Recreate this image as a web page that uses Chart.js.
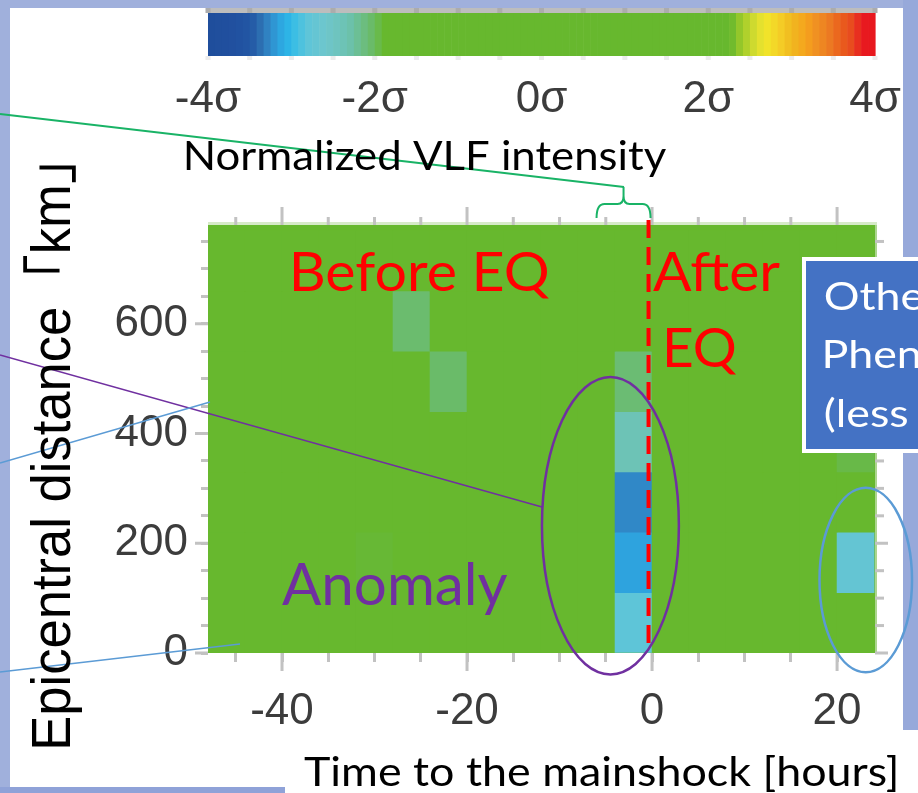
<!DOCTYPE html>
<html>
<head>
<meta charset="utf-8">
<script src="https://cdn.jsdelivr.net/npm/chart.js@4/dist/chart.umd.min.js"></script>
<style>
  html, body { margin: 0; padding: 0; background: #ffffff; }
  body { width: 918px; height: 793px; position: relative; overflow: hidden; }
  .frame { position: absolute; background: #a0b0dc; }
  #c { position: absolute; left: 0; top: 0; }
</style>
</head>
<body>
<div class="frame" style="left:0;top:0;width:918px;height:8px;"></div>
<div class="frame" style="left:0;top:0;width:10px;height:787px;"></div>
<div class="frame" style="left:903px;top:0;width:15px;height:730px;background:#97a9da;"></div>
<div class="frame" style="left:0;top:787px;width:285px;height:6px;background:#8fa2d8;"></div>
<canvas id="c" width="918" height="793"></canvas>
<script>
// ---------------- data ----------------
// time bins (hours relative to the mainshock), bin edges
const timeEdges = [-48, -44, -40, -36, -32, -28, -24, -20, -16, -12, -8, -4, 0, 4, 8, 12, 16, 20, 24];
// epicentral distance bins (km), bin edges
const distanceEdges = [0, 110, 220, 330, 440, 550, 660, 770];
// normalized VLF intensity (sigma); rows = distance bins (bottom -> top), columns = time bins (left -> right)
const rowD0   = [0, 0, 0, 0, 0, 0, 0, 0, 0, 0, 0, -2.80, 0, 0, 0, 0, 0, 0];
const rowD110 = [0, 0, 0, 0, -1.90, 0, 0, 0, 0, 0, 0, -3.15, 0, 0, 0, 0, 0, -2.72];
const rowD220 = [0, 0, 0, 0, 0, 0, 0, 0, 0, 0, 0, -3.27, 0, 0, 0, 0, 0, 0];
const rowD330 = [0, 0, 0, 0, 0, 0, 0, 0, 0, 0, 0, -2.38, 0, 0, 0, 0, 0, -1.95];
const rowD440 = [0, 0, 0, 0, 0, 0, -2.04, 0, 0, 0, 0, -2.08, 0, 0, 0, 0, 0, 0];
const rowD550 = [0, 0, 0, 0, 0, -2.06, 0, 0, 0, 0, 0, 0, 0, 0, 0, 0, 0, 0];
const rowD660 = [0, 0, 0, 0, 0, 0, 0, 0, 0, 0, 0, 0, 0, 0, 0, 0, 0, 0];
const intensitySigma = [rowD0, rowD110, rowD220, rowD330, rowD440, rowD550, rowD660];

// tick labels
const xLabelValues = [-40, -20, 0, 20];
const yLabelValues = [0, 200, 400, 600];
const colorbarLabelValues = [-4, -2, 0, 2, 4];
const colorbarTickValues = [-4, -3.5, -3, -2.5, -2, -1.5, -1, -0.5, 0, 0.5, 1, 1.5, 2, 2.5, 3, 3.5, 4];
const mainshockTime = 0;

// ---------------- colour map (style) ----------------
const cmapStops = [
  [-4.00, '#1f4e9c'], [-3.66, '#2150a0'], [-3.48, '#2358a5'], [-3.39, '#2b6aae'],
  [-3.30, '#3080c0'], [-3.24, '#2f8fcd'], [-3.15, '#2ea3de'], [-3.05, '#2bb3e6'],
  [-2.94, '#40c0e4'], [-2.80, '#5ec5d8'], [-2.60, '#6ec6cc'], [-2.42, '#6ec4bc'],
  [-2.28, '#6cc1a8'], [-2.15, '#6cbe86'], [-2.03, '#6abb66'], [-1.88, '#67b82e'],
  [2.27, '#67b82e'], [2.35, '#8cc42a'], [2.47, '#b4d22c'], [2.58, '#dcdf30'],
  [2.70, '#f1e42a'], [2.85, '#f5d027'], [3.00, '#f0b81f'], [3.17, '#f5a31d'],
  [3.30, '#f09022'], [3.45, '#ec7b22'], [3.58, '#ea601c'], [3.72, '#e84a1e'],
  [3.85, '#e8191f'], [4.00, '#e8181e']
];
function hexRgb(h) { return [parseInt(h.substr(1, 2), 16), parseInt(h.substr(3, 2), 16), parseInt(h.substr(5, 2), 16)]; }
function cmap(v) {
  if (v <= cmapStops[0][0]) return cmapStops[0][1];
  for (let i = 1; i < cmapStops.length; i++) {
    const [v1, c1] = cmapStops[i];
    if (v <= v1) {
      const [v0, c0] = cmapStops[i - 1];
      const t = (v - v0) / (v1 - v0);
      const a = hexRgb(c0), b = hexRgb(c1);
      const m = a.map((x, k) => Math.round(x + (b[k] - x) * t));
      return 'rgb(' + m.join(',') + ')';
    }
  }
  return cmapStops[cmapStops.length - 1][1];
}

// ---------------- cells ----------------
const cells = [];
intensitySigma.forEach((row, r) => {
  row.forEach((v, c) => {
    cells.push({ x: (timeEdges[c] + timeEdges[c + 1]) / 2, y: [distanceEdges[r], distanceEdges[r + 1]], v: v });
  });
});

// ---------------- text helper ----------------
function fitText(ctx, o) {
  ctx.save();
  ctx.textAlign = 'left';
  ctx.textBaseline = 'alphabetic';
  const fam = o.font || 'Lato';
  ctx.font = (o.weight || 'normal') + ' 100px ' + fam;
  const capRatio = ctx.measureText('H').actualBoundingBoxAscent / 100;
  const size = o.cap / capRatio;
  ctx.font = (o.weight || 'normal') + ' ' + size + 'px ' + fam;
  const m = ctx.measureText(o.text);
  const ink = m.actualBoundingBoxLeft + m.actualBoundingBoxRight;
  const sx = o.width ? o.width / ink : (o.sx || 1);
  ctx.translate(o.x, o.y);
  if (o.rotate) ctx.rotate(o.rotate);
  ctx.scale(sx, 1);
  ctx.fillStyle = o.color || '#000';
  ctx.fillText(o.text, m.actualBoundingBoxLeft, 0);
  ctx.restore();
  return sx;
}

const TICK = '#c2c2c2';

const overlay = {
  id: 'overlay',
  beforeDatasetsDraw(chart) {
    const ctx = chart.ctx, a = chart.chartArea;
    ctx.save();
    ctx.fillStyle = cmap(0);
    ctx.fillRect(a.left, a.top, a.right - a.left, a.bottom - a.top);
    // soft image edges of the heat map
    ctx.fillStyle = '#d6eac8';
    ctx.fillRect(a.left, a.top - 3, a.right - a.left + 2, 3);
    ctx.fillStyle = '#acd58f';
    ctx.fillRect(a.right, a.top, 2, a.bottom - a.top);
    ctx.restore();
  },
  afterDatasetsDraw(chart) {
    const ctx = chart.ctx, a = chart.chartArea;
    const xs = chart.scales.x, ys = chart.scales.y, cb = chart.scales.cb;
    ctx.save();

    // extra tick marks (major extensions, top and right mirrors)
    ctx.fillStyle = TICK;
    xs.ticks.forEach(t => {
      const px = xs.getPixelForValue(t.value);
      const major = xLabelValues.includes(t.value);
      if (major) ctx.fillRect(px - 1.5, a.bottom, 3, 18);
      const L = major ? 18 : 8;
      ctx.fillRect(px - 1.5, a.top - L, 3, L);
    });
    ys.ticks.forEach(t => {
      const py = ys.getPixelForValue(t.value);
      const major = yLabelValues.includes(t.value);
      if (major) ctx.fillRect(a.left - 13, py - 1.5, 13, 3);
      ctx.fillRect(a.right, py - 1.5, major ? 13 : 9, 3);
    });

    // colour bar
    const cbTop = 13, cbBot = 56;
    const x0 = cb.getPixelForValue(-4), x1 = cb.getPixelForValue(4);
    const N = 96;
    for (let i = 0; i < N; i++) {
      const v0 = -4 + 8 * i / N, v1 = -4 + 8 * (i + 1) / N;
      const p0 = cb.getPixelForValue(v0), p1 = cb.getPixelForValue(v1);
      ctx.fillStyle = cmap((v0 + v1) / 2);
      ctx.fillRect(p0, cbTop, p1 - p0 + 0.6, cbBot - cbTop);
    }
    ctx.fillStyle = '#bdbdbd';
    ctx.fillRect(x0, 8, x1 - x0 + 1, cbTop - 8);
    colorbarTickValues.forEach(v => {
      const p = cb.getPixelForValue(v);
      ctx.fillStyle = '#acacac';
      ctx.fillRect(p - 2.5, 8, 5, cbTop - 8);
      ctx.fillStyle = '#ececec';
      ctx.fillRect(p - 2.5, cbBot, 5, 4);
    });
    ctx.fillStyle = '#3c3c3c';
    ctx.font = '44px "Liberation Sans"';
    ctx.textAlign = 'center';
    ctx.textBaseline = 'alphabetic';
    colorbarLabelValues.forEach(v => {
      ctx.fillText(v + 'σ', cb.getPixelForValue(v), 112);
    });

    // red dashed mainshock line
    const ex = xs.getPixelForValue(mainshockTime) - 3.5;
    ctx.strokeStyle = '#ff0000';
    ctx.lineWidth = 4;
    ctx.setLineDash([18, 9]);
    ctx.beginPath();
    ctx.moveTo(ex, a.top - 5);
    ctx.lineTo(ex, a.bottom - 10);
    ctx.stroke();
    ctx.setLineDash([]);

    // green pointer line + brace
    ctx.strokeStyle = '#19b366';
    ctx.lineWidth = 2;
    ctx.beginPath();
    ctx.moveTo(0, 114);
    ctx.lineTo(624, 187);
    ctx.stroke();
    const bl = xs.getPixelForValue(-6), br = ex + 2, bc = (bl + br) / 2;
    ctx.beginPath();
    ctx.moveTo(bl, 218);
    ctx.quadraticCurveTo(bl, 204, bl + 8, 204);
    ctx.lineTo(bc - 6, 204);
    ctx.quadraticCurveTo(bc, 204, bc, 196);
    ctx.lineTo(bc, 187);
    ctx.moveTo(bc, 196);
    ctx.quadraticCurveTo(bc, 204, bc + 6, 204);
    ctx.lineTo(br - 8, 204);
    ctx.quadraticCurveTo(br, 204, br, 218);
    ctx.stroke();

    // purple anomaly annotation
    ctx.strokeStyle = '#7030a0';
    ctx.lineWidth = 1.5;
    ctx.beginPath();
    ctx.moveTo(0, 355);
    ctx.lineTo(542, 507);
    ctx.stroke();
    ctx.lineWidth = 2.5;
    ctx.beginPath();
    ctx.ellipse(xs.getPixelForValue(-4.5), ys.getPixelForValue(232),
      xs.getPixelForValue(7.4) - xs.getPixelForValue(0), ys.getPixelForValue(0) - ys.getPixelForValue(271), 0, 0, Math.PI * 2);
    ctx.stroke();

    // blue "other phenomena" annotation
    ctx.strokeStyle = '#5b9bd5';
    ctx.lineWidth = 1.5;
    ctx.beginPath();
    ctx.moveTo(0, 463); ctx.lineTo(210, 402);
    ctx.moveTo(0, 672); ctx.lineTo(240, 644);
    ctx.stroke();
    ctx.lineWidth = 2.5;
    ctx.beginPath();
    ctx.ellipse(xs.getPixelForValue(23.1), ys.getPixelForValue(133),
      xs.getPixelForValue(5.0) - xs.getPixelForValue(0), ys.getPixelForValue(0) - ys.getPixelForValue(168), 0, 0, Math.PI * 2);
    ctx.stroke();

    // red / purple labels
    fitText(ctx, { text: 'Before EQ', x: 293, y: 291, cap: 39, width: 257, color: '#ff0000' });
    fitText(ctx, { text: 'After', x: 653, y: 291, cap: 40, width: 127, color: '#ff0000' });
    fitText(ctx, { text: 'EQ', x: 667, y: 367, cap: 40, width: 70, color: '#ff0000' });
    fitText(ctx, { text: 'Anomaly', x: 282, y: 605, cap: 42, width: 226, color: '#7030a0' });

    // blue box
    ctx.fillStyle = '#ffffff';
    ctx.fillRect(802, 257, 116, 196);
    ctx.fillStyle = '#4472c4';
    ctx.fillRect(806, 261, 112, 188);
    const sx = fitText(ctx, { text: '(less', x: 825, y: 427, cap: 28, width: 83, color: '#ffffff' });
    fitText(ctx, { text: 'Othe', x: 825, y: 310, cap: 28, sx: sx, color: '#ffffff' });
    fitText(ctx, { text: 'Phen', x: 825, y: 368, cap: 28, sx: sx, color: '#ffffff' });

    // titles
    fitText(ctx, { text: 'Normalized VLF intensity', x: 186, y: 170, cap: 30, width: 480, color: '#000' });
    fitText(ctx, { text: 'Time to the mainshock [hours]', x: 304, y: 786, cap: 29, width: 592, color: '#000' });
    fitText(ctx, { text: 'Epicentral distance「km」', x: 70, y: 747, cap: 38, width: 582, color: '#000',
      font: '"Liberation Sans", "Noto Sans CJK JP"', rotate: -Math.PI / 2 });

    ctx.restore();
  }
};

new Chart(document.getElementById('c'), {
  type: 'bar',
  data: {
    datasets: [{
      data: cells,
      backgroundColor: cells.map(c => cmap(c.v)),
      borderWidth: 0,
      barPercentage: 1,
      categoryPercentage: 1
    }]
  },
  options: {
    responsive: false,
    devicePixelRatio: 1,
    animation: false,
    events: [],
    layout: { autoPadding: false, padding: { left: 68, right: 43, top: 225, bottom: 40 } },
    plugins: { legend: { display: false }, tooltip: { enabled: false }, title: { display: false } },
    scales: {
      x: {
        type: 'linear', position: 'bottom', min: -48, max: 24.1, offset: false,
        border: { display: false },
        grid: { display: true, drawOnChartArea: false, drawTicks: true, tickLength: 9, tickWidth: 3, tickColor: TICK, offset: false },
        ticks: {
          stepSize: 5, autoSkip: false, maxRotation: 0, padding: 23, includeBounds: false,
          color: '#3c3c3c', font: { family: 'Liberation Sans', size: 44 },
          callback: v => xLabelValues.includes(v) ? String(v) : ''
        },
        afterFit: s => { s.height = 100; }
      },
      y: {
        type: 'linear', position: 'left', min: 0, max: 780,
        border: { display: false },
        grid: { display: true, drawOnChartArea: false, drawTicks: true, tickLength: 7, tickWidth: 3, tickColor: TICK },
        ticks: {
          stepSize: 50, autoSkip: false, padding: 13, includeBounds: false,
          color: '#3c3c3c', font: { family: 'Liberation Sans', size: 44 },
          callback: v => yLabelValues.includes(v) ? String(v) : ''
        },
        afterFit: s => { s.width = 140; }
      },
      cb: {
        type: 'linear', axis: 'x', position: 'top', display: true, min: -4, max: 4, offset: false,
        border: { display: false },
        grid: { display: false, drawTicks: false, offset: false },
        ticks: { display: false },
        afterFit: s => { s.height = 0; }
      }
    }
  },
  plugins: [overlay]
});
</script>
</body>
</html>
